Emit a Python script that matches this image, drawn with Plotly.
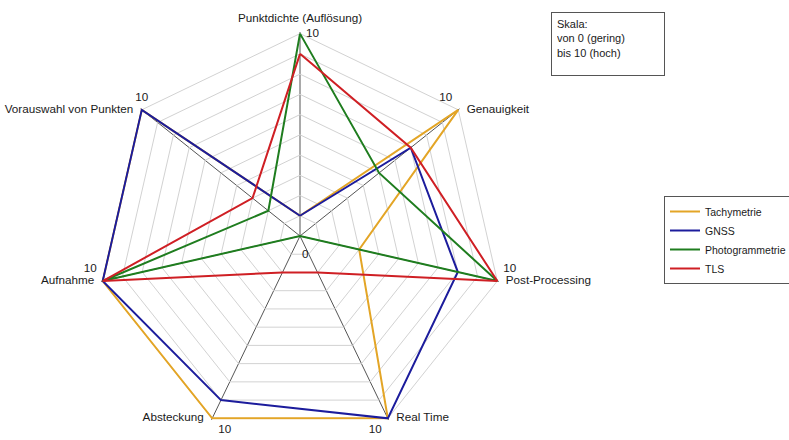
import plotly.graph_objects as go

# Kriterien (Achsen des Netzdiagramms, im Uhrzeigersinn ab oben)
kriterien = [
    "Punktdichte (Auflösung)",
    "Genauigkeit",
    "Post-Processing",
    "Real Time",
    "Absteckung",
    "Aufnahme",
    "Vorauswahl von Punkten",
]

# Bewertungen je Messverfahren (0 = gering, 10 = hoch)
tachymetrie = [1, 10, 3, 10, 10, 10, 10]
gnss = [1, 7, 8, 10, 9, 10, 10]
photogrammetrie = [10, 5, 10, 0, 0, 10, 2]
tls = [9, 7, 10, 2, 2, 10, 3]

skala_max = 10
skala_min = 0
# kleiner Rand ueber dem Skalenmaximum, damit Linien auf dem Rand nicht abgeschnitten werden
rand = 0.08

serien = [
    ("Tachymetrie", tachymetrie, "#E3A526"),
    ("GNSS", gnss, "#1C1C9C"),
    ("Photogrammetrie", photogrammetrie, "#1F7D1F"),
    ("TLS", tls, "#CF1F24"),
]

FONT = "Liberation Sans, Arial, sans-serif"
TXT = "#1a1a1a"
FS = 11.7

# Lage des Netzdiagramms (Anteile der Zeichenflaeche)
polar_x = [96 / 789, 504 / 789]
polar_y = [0, 408 / 440]
zentrum_x = sum(polar_x) / 2
zentrum_y = sum(polar_y) / 2

fig = go.Figure()

for name, werte, farbe in serien:
    fig.add_trace(go.Scatterpolar(
        r=werte + werte[:1],
        theta=kriterien + kriterien[:1],
        mode="lines",
        name=name,
        line=dict(color=farbe, width=2),
        cliponaxis=False,
        hoverinfo="skip",
    ))

# unsichtbare Marker sorgen fuer Abstand zwischen Spitze und Beschriftung
hidden = dict(size=12, opacity=0, color="white")

# Achsenbeschriftungen an den Spitzen
label_pos = ["top center", "middle right", "middle right", "middle right",
             "middle left", "middle left", "middle left"]
fig.add_trace(go.Scatterpolar(
    r=[skala_max] * len(kriterien),
    theta=kriterien,
    mode="markers+text",
    marker=hidden,
    text=kriterien,
    textposition=label_pos,
    textfont=dict(family=FONT, size=FS, color=TXT),
    cliponaxis=False,
    showlegend=False,
    hoverinfo="skip",
))

# Skalenwert "10" an jeder Achse
max_pos = ["middle right", "top left", "top right", "bottom left",
           "bottom right", "top left", "top center"]
fig.add_trace(go.Scatterpolar(
    r=[skala_max] * len(kriterien),
    theta=kriterien,
    mode="markers+text",
    marker=dict(size=8, opacity=0, color="white"),
    text=[str(skala_max)] * len(kriterien),
    textposition=max_pos,
    textfont=dict(family=FONT, size=FS, color=TXT),
    cliponaxis=False,
    showlegend=False,
    hoverinfo="skip",
))

fig.update_layout(
    width=789,
    height=440,
    margin=dict(l=0, r=0, t=0, b=0, autoexpand=False),
    paper_bgcolor="white",
    plot_bgcolor="white",
    font=dict(family=FONT, size=FS, color=TXT),
    polar=dict(
        domain=dict(x=polar_x, y=polar_y),
        bgcolor="white",
        gridshape="linear",
        radialaxis=dict(
            range=[skala_min, skala_max + rand],
            tick0=0,
            dtick=1,
            showticklabels=False,
            ticks="",
            showline=False,
            gridcolor="#d2d2d2",
            gridwidth=1,
            layer="below traces",
        ),
        angularaxis=dict(
            type="category",
            categoryarray=kriterien,
            direction="clockwise",
            rotation=90,
            showticklabels=False,
            ticks="",
            showline=False,
            gridcolor="#555555",
            gridwidth=1,
            layer="below traces",
        ),
    ),
    legend=dict(
        x=664 / 789,
        y=1 - 196 / 440,
        xanchor="left",
        yanchor="top",
        bordercolor="#555555",
        borderwidth=1,
        bgcolor="white",
        font=dict(family=FONT, size=10.5, color=TXT),
        tracegroupgap=0,
        itemwidth=30,
    ),
    annotations=[
        # Skalenwert "0" im Zentrum
        dict(
            xref="paper",
            yref="paper",
            x=zentrum_x,
            y=zentrum_y,
            xanchor="left",
            yanchor="top",
            xshift=0,
            yshift=-9,
            text=str(skala_min),
            showarrow=False,
            font=dict(family=FONT, size=FS, color=TXT),
        ),
        dict(
            xref="paper",
            yref="paper",
            x=551 / 789,
            y=1 - 12 / 440,
            xanchor="left",
            yanchor="top",
            text="Skala:<br>von 0 (gering)<br>bis 10 (hoch)",
            align="left",
            valign="top",
            showarrow=False,
            width=102,
            height=52,
            borderpad=5,
            bordercolor="#555555",
            borderwidth=1,
            bgcolor="white",
            font=dict(family=FONT, size=11, color=TXT),
        ),
    ],
)

fig.write_html("out.html")
